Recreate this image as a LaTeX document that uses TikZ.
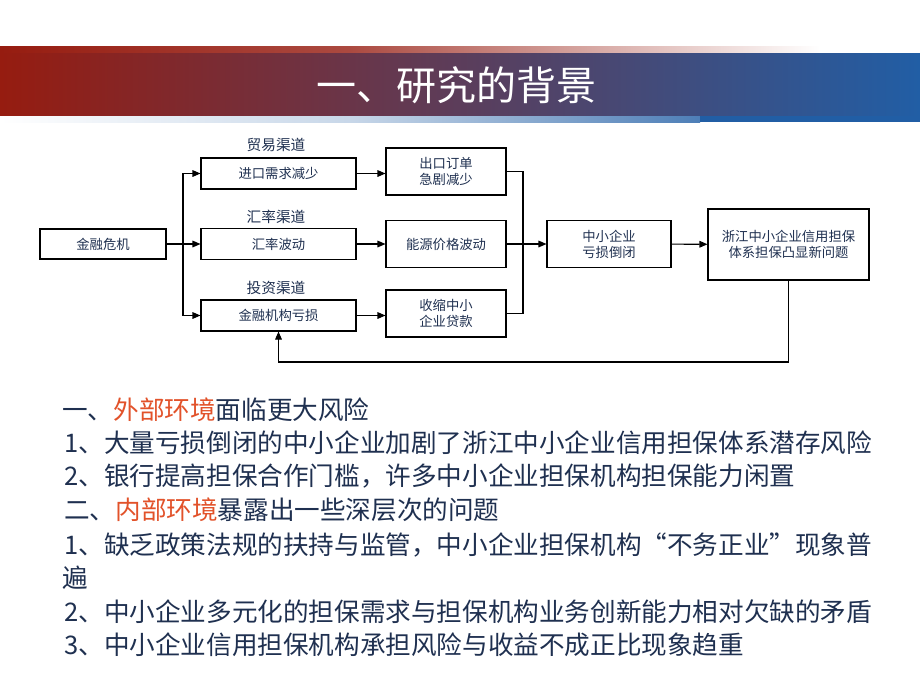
\documentclass[tikz,border=0pt]{standalone}
\usepackage{fontspec}
\setmainfont{Noto Sans CJK SC}
\usetikzlibrary{arrows.meta}
\definecolor{barred}{RGB}{150,28,16}
\definecolor{barmid}{RGB}{165,104,108}
\definecolor{barblue}{RGB}{33,94,165}
\definecolor{ink}{RGB}{31,48,80}
\definecolor{hot}{RGB}{226,82,42}
\begin{document}
\begin{tikzpicture}[x=0.75pt,y=-0.75pt,
	box/.style={draw, line width=0.8pt, text=ink, font=\fontsize{10}{12}\selectfont, align=center, inner sep=1pt},
	lane/.style={text=ink, font=\fontsize{11}{13}\selectfont},
	line/.style={line width=0.8pt},
	arr/.style={line width=0.8pt, -{Triangle[length=6pt,width=5pt]}},
	body/.style={anchor=west, inner sep=0pt, text=ink, font=\fontsize{19.2}{23}\selectfont}]
	\useasboundingbox[fill=white] (0,0) rectangle (920,690);

	% title bar
	\shade[left color=barred, right color=barred!20!white, middle color=barred!80!white] (0,46) rectangle (700,53);
	\shade[left color=barred!20!white, right color=white] (700,46) rectangle (820,53);
	\shade[left color=white, right color=barblue!80!white, middle color=barblue!25!white] (0,115) rectangle (700,122);
	\fill[barblue] (700,115) rectangle (920,122);
	\shade[left color=barred, middle color=barmid, right color=barblue] (0,53) rectangle (920,115);
	\node[white, font=\fontsize{30}{34}\selectfont] (title) at (456,85) {一、研究的背景};

	% flow chart
	\node[box, minimum width=94.5pt, minimum height=22.5pt] (crisis) at (103,244) {金融危机};
	\node[box, minimum width=116.25pt, minimum height=23.25pt] (trade) at (278.5,173.5) {进口需求减少};
	\node[box, minimum width=116.25pt, minimum height=23.25pt] (rate) at (278.5,244) {汇率波动};
	\node[box, minimum width=116.25pt, minimum height=23.25pt] (invest) at (278.5,315.5) {金融机构亏损};
	\node[lane] (tradelab) at (276,145) {贸易渠道};
	\node[lane] (ratelab) at (276,217) {汇率渠道};
	\node[lane] (investlab) at (276,288) {投资渠道};

	\node[box, minimum width=90pt, minimum height=35.25pt] (export) at (446,171.5) {出口订单\\急剧减少};
	\node[box, minimum width=90pt, minimum height=35.25pt] (energy) at (446,244) {能源价格波动};
	\node[box, minimum width=90pt, minimum height=35.25pt] (loan) at (446,313.5) {收缩中小\\企业贷款};
	\node[box, minimum width=93pt, minimum height=35.25pt] (sme) at (609,244) {中小企业\\亏损倒闭};
	\node[box, minimum width=120.75pt, minimum height=53.25pt] (zj) at (788.5,244.5) {浙江中小企业信用担保\\体系担保凸显新问题};

	\coordinate (split) at (183,244);
	\coordinate (join) at (523,244);
	\coordinate (back) at (278.5,362);

	\draw[line] (crisis) -- (split);
	\draw[arr] (split) |- (trade);
	\draw[arr] (split) -- (rate);
	\draw[arr] (split) |- (invest);

	\draw[arr] (trade.east) -- (trade.east -| export.west);
	\draw[arr] (rate) -- (energy);
	\draw[arr] (invest.east) -- (invest.east -| loan.west);

	\draw[line] (export.east) -| (join) |- (loan.east);
	\draw[line] (energy) -- (join);
	\draw[arr] (join) -- (sme);
	\draw[arr] (sme) -- (zj);
	\draw[arr] (zj.south) |- (back) -- (invest.south);

	% text below
	\node[body] (t1) at (62,410) {一、\textcolor{hot}{外部环境}面临更大风险};
	\node[body] (t2) at (64,443) {1、大量亏损倒闭的中小企业加剧了浙江中小企业信用担保体系潜存风险};
	\node[body] (t3) at (64,476) {2、银行提高担保合作门槛，许多中小企业担保机构担保能力闲置};
	\node[body] (t4) at (64,510) {二、\textcolor{hot}{内部环境}暴露出一些深层次的问题};
	\node[body] (t5) at (64,545) {1、缺乏政策法规的扶持与监管，中小企业担保机构“不务正业”现象普};
	\node[body] (t6) at (62,578) {遍};
	\node[body] (t7) at (64,612) {2、中小企业多元化的担保需求与担保机构业务创新能力相对欠缺的矛盾};
	\node[body] (t8) at (64,645) {3、中小企业信用担保机构承担风险与收益不成正比现象趋重};
\end{tikzpicture}
\end{document}
